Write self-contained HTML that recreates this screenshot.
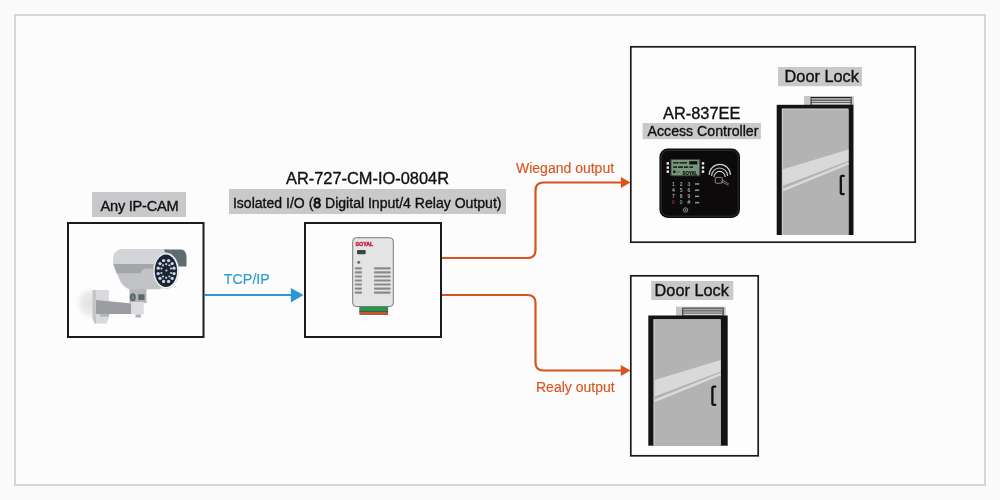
<!DOCTYPE html>
<html><head><meta charset="utf-8">
<style>
html,body{margin:0;padding:0;width:1000px;height:500px;overflow:hidden;background:#fafafa;}
svg{position:absolute;left:0;top:0;will-change:transform;}
text{font-family:"Liberation Sans",sans-serif;}
.tb{stroke:#111;stroke-width:0.35;}
.tc{stroke-width:0.12;}
</style></head>
<body>
<svg width="1000" height="500" viewBox="0 0 1000 500">
  <!-- outer frame -->
  <rect x="15" y="15" width="970" height="470" fill="#fcfcfc" stroke="#d6d6d6" stroke-width="2"/>

  <!-- camera label + box -->
  <rect x="92" y="192" width="94" height="25" fill="#c8c9cb"/>
  <text x="100.6" y="211" font-size="14.6" letter-spacing="-0.25" fill="#111" class="tb">Any IP-CAM</text>
  <rect x="68" y="223" width="135.5" height="114" fill="#fdfdfd" stroke="#1c1a1a" stroke-width="2"/>
  <!-- camera -->
  <defs>
    <radialGradient id="shd" cx="0.5" cy="0.5" r="0.5">
      <stop offset="0" stop-color="#e2e2e2"/>
      <stop offset="0.55" stop-color="#ececec"/>
      <stop offset="1" stop-color="#ffffff" stop-opacity="0"/>
    </radialGradient>
  </defs>
  <g>
    <ellipse cx="89" cy="303" rx="15" ry="19" fill="url(#shd)"/>
    <!-- wall plate -->
    <path d="M92.5,290 H109 V318 L106.5,323.5 H94.5 L92.5,318 Z" fill="#d9dadd"/>
    <path d="M92.5,290 V318 L94.5,323.5 H96 V290 Z" fill="#c4c6c9"/>
    <!-- arm -->
    <path d="M96,300 L132,303.5 V314 H96 Z" fill="#9b9da2"/>
    <rect x="100" y="314" width="9" height="2.6" fill="#b3b5b8"/>
    <!-- neck -->
    <path d="M129.5,287 H146.5 V303 H129.5 Z" fill="#b5b7bb"/>
    <!-- joint -->
    <rect x="131" y="302" width="12.8" height="12.3" fill="#dcdde0"/>
    <rect x="135.5" y="314.5" width="5.5" height="3" fill="#b0b2b5"/>
    <rect x="138.3" y="294.3" width="6.2" height="5.8" fill="#5b676b"/>
    <ellipse cx="132.8" cy="297.2" rx="3" ry="3.9" fill="#5b676b"/>
    <ellipse cx="132.8" cy="297.2" rx="1.6" ry="2.5" fill="#76807f"/>
    <!-- lower body -->
    <path d="M116.5,272 L119.5,279.5 C121.5,284 125,287.8 129.5,289.3 H158 C162,289 166,287 168,284 V268 H116 Z" fill="#c2c3c6"/>
    <!-- dark band -->
    <path d="M113,263.4 H168 V268.5 H146 C143,268.5 141.5,271 140.5,273.2 H116.6 Z" fill="#a4a6aa"/>
    <!-- top band -->
    <path d="M113,263.4 V259 C113,253 117,249 123,249 H168 V263.4 Z" fill="#d4d5d8"/>
    <!-- hood -->
    <path d="M164,249.5 H181 C184.5,249.5 186.5,253 186.5,257 V266.5 H170 Z" fill="#5e6b6f"/>
    <!-- lens -->
    <ellipse cx="166" cy="270.8" rx="12.8" ry="18.1" fill="#f2f3f5" stroke="#c4c6c9" stroke-width="0.5"/>
    <ellipse cx="165.9" cy="270.8" rx="11.2" ry="16.2" fill="#1d2431"/>
    <g fill="#c9d5e8">
      <circle cx="163.6" cy="260.6" r="1.65"/><circle cx="168.6" cy="260.6" r="1.65"/>
      <circle cx="172.2" cy="263.6" r="1.65"/><circle cx="174" cy="268.2" r="1.65"/>
      <circle cx="174" cy="273.6" r="1.65"/><circle cx="172.2" cy="278.3" r="1.65"/>
      <circle cx="168.6" cy="281.4" r="1.65"/><circle cx="163.6" cy="281.4" r="1.65"/>
      <circle cx="160" cy="278.3" r="1.65"/><circle cx="158.2" cy="273.6" r="1.65"/>
      <circle cx="158.2" cy="268.2" r="1.65"/><circle cx="160" cy="263.6" r="1.65"/>
    </g>
    <g fill="#c3cfe3">
      <circle cx="166.2" cy="264.2" r="1.1"/><circle cx="169.4" cy="265.3" r="1.1"/>
      <circle cx="171" cy="268.6" r="1.1"/><circle cx="171" cy="273" r="1.1"/>
      <circle cx="169.4" cy="276.5" r="1.1"/><circle cx="166.2" cy="277.8" r="1.1"/>
      <circle cx="163" cy="276.5" r="1.1"/><circle cx="161.4" cy="273" r="1.1"/>
      <circle cx="161.4" cy="268.6" r="1.1"/><circle cx="163" cy="265.3" r="1.1"/>
    </g>
    <circle cx="166.4" cy="270.5" r="1.1" fill="#c9d5e8"/>
  </g>

  <!-- device labels + box -->
  <text x="286" y="184" font-size="16.4" fill="#111" class="tb">AR-727-CM-IO-0804R</text>
  <rect x="229" y="189" width="277" height="25" fill="#c8c9cb"/>
  <text x="232.9" y="207.6" font-size="14.05" fill="#111" class="tb">Isolated I/O (<tspan style="stroke-width:0.85">8</tspan> Digital Input/4 Relay Output)</text>
  <rect x="305" y="223" width="136" height="114" fill="#fdfdfd" stroke="#1c1a1a" stroke-width="2"/>
  <!-- SOYAL IO device -->
  <g>
    <rect x="359.8" y="306" width="28" height="5.8" fill="#1d9a4a" stroke="#3a3a3a" stroke-width="0.5"/>
    <rect x="359.8" y="311.6" width="28" height="3.1" fill="#d2532b" stroke="#3a3a3a" stroke-width="0.5"/>
    <rect x="352.7" y="237.7" width="40.6" height="68.8" rx="3.6" fill="#e4e4e5" stroke="#7a7a7a" stroke-width="1"/>
    <text x="355.6" y="245.9" font-size="5.1" font-weight="bold" fill="#c4142e" stroke="#c4142e" stroke-width="0.35" textLength="17.6" lengthAdjust="spacingAndGlyphs">SOYAL</text>
    <rect x="357" y="250" width="8.7" height="4.3" rx="1" fill="#3b4842"/>
    <circle cx="358.7" cy="262.2" r="1.5" fill="#6c6c6c"/>
    <g stroke="#8a8a8a" stroke-width="2.2" stroke-linecap="round">
      <path d="M355.8,268.4H361 M355.8,272.4H361 M355.8,276.5H361 M355.8,280.5H361 M355.8,284.5H361 M355.8,288.6H361 M355.8,292.6H361"/>
      <path d="M374.9,268.4H389.7 M374.9,272.4H389.7 M374.9,276.5H389.7 M374.9,280.5H389.7 M374.9,284.5H389.7 M374.9,288.6H389.7 M374.9,292.6H389.7"/>
    </g>
  </g>

  <!-- TCP/IP arrow -->
  <text x="223.8" y="284.2" font-size="14.3" fill="#2f9ad6" stroke="#2b98d4" class="tc">TCP/IP</text>
  <line x1="204" y1="295" x2="292" y2="295" stroke="#2b98d4" stroke-width="2.2"/>
  <polygon points="290.8,288 303.5,295 290.8,302.4" fill="#2b98d4"/>

  <!-- orange paths -->
  <path d="M442,258 H527.5 Q535.5,258 535.5,250 V190.5 Q535.5,182.5 543.5,182.5 H622" fill="none" stroke="#d9531e" stroke-width="2.2"/>
  <polygon points="620.8,177 630.5,182.5 620.8,188" fill="#d9531e"/>
  <text x="516" y="173" font-size="14" fill="#d9531e" stroke="#d9531e" class="tc">Wiegand output</text>
  <path d="M442,295 H527.5 Q535.5,295 535.5,303 V362.5 Q535.5,370.5 543.5,370.5 H622" fill="none" stroke="#d9531e" stroke-width="2.2"/>
  <polygon points="620.8,365 630.5,370.5 620.8,376" fill="#d9531e"/>
  <text x="536" y="392" font-size="14" fill="#d9531e" stroke="#d9531e" class="tc">Realy output</text>

  <!-- top right box -->
  <rect x="630.8" y="46.8" width="284.4" height="195.4" fill="#fdfdfd" stroke="#1c1a1a" stroke-width="1.7"/>
  <!-- bottom right box -->
  <rect x="630.8" y="275.8" width="127.4" height="180" fill="#fdfdfd" stroke="#1c1a1a" stroke-width="1.7"/>

  <g transform="translate(776.7,105)">
    <rect x="27.3" y="-9" width="49.900000000000006" height="9.3" fill="#c6c6c6"/>
    <rect x="34.4" y="-7.5" width="40.00000000000001" height="7.8" fill="#d4d4d4" stroke="#1e1e1e" stroke-width="1"/>
    <rect x="34.9" y="-7" width="39.00000000000001" height="2.3" fill="#a6a6a6"/>
    <path d="M34.4,-4.7H74.4 M34.4,-2.6H74.4" stroke="#333" stroke-width="0.8"/>
    <rect x="0" y="-0.2" width="76.8" height="130.2" fill="#141414"/>
    <rect x="5.1" y="3.5000000000000004" width="66.69999999999999" height="126.5" fill="#d2d2d2"/>
    <rect x="6.2" y="4.4" width="65.6" height="125.6" rx="1" fill="#b3b3b3"/>
    <path d="M6.2,64.2 L71.8,44.4 V55.8 L6.2,80.8 Z" fill="#d9d9d9"/>
    <path d="M6.2,85.2 L71.8,58.4" stroke="#dadada" stroke-width="2.4" fill="none"/>
    <path d="M67,70.9 H65.6 Q64.1,70.9 64.1,72.4 V87.6 Q64.1,89.1 65.6,89.1 H67" stroke="#111" stroke-width="2.3" fill="none" stroke-linecap="round"/>
  </g>
  <g transform="translate(648.3,315.7)">
    <rect x="27.7" y="-9" width="49.8" height="9.3" fill="#c6c6c6"/>
    <rect x="34.5" y="-7.5" width="40.3" height="7.8" fill="#d4d4d4" stroke="#1e1e1e" stroke-width="1"/>
    <rect x="35.0" y="-7" width="39.3" height="2.3" fill="#a6a6a6"/>
    <path d="M34.5,-4.7H74.8 M34.5,-2.6H74.8" stroke="#333" stroke-width="0.8"/>
    <rect x="0" y="-0.2" width="79.4" height="130.2" fill="#141414"/>
    <rect x="5.1" y="3.5000000000000004" width="67.3" height="126.5" fill="#d2d2d2"/>
    <rect x="6.2" y="4.4" width="66.2" height="125.6" rx="1" fill="#b3b3b3"/>
    <path d="M6.2,64.2 L72.4,44.4 V55.8 L6.2,80.8 Z" fill="#d9d9d9"/>
    <path d="M6.2,85.2 L72.4,58.4" stroke="#dadada" stroke-width="2.4" fill="none"/>
    <path d="M67,70.9 H65.6 Q64.1,70.9 64.1,72.4 V87.6 Q64.1,89.1 65.6,89.1 H67" stroke="#111" stroke-width="2.3" fill="none" stroke-linecap="round"/>
  </g>

  <!-- access controller -->
  <g>
    <rect x="659.4" y="148.6" width="80.6" height="69.4" rx="8.5" fill="#0c0a0a"/>
    <rect x="661.2" y="150.4" width="77" height="65.8" rx="7" fill="none" stroke="#3c3a3a" stroke-width="0.8"/>
    <rect x="671" y="159.4" width="28.8" height="16.4" fill="#76977c" stroke="#3a403c" stroke-width="0.9"/>
    <g fill="#1e2a20">
      <rect x="673.2" y="162" width="5.5" height="1.6"/><rect x="679.5" y="162" width="7.5" height="1.6"/>
      <rect x="689.2" y="161.2" width="8.2" height="3.2" fill="#0c120d"/>
      <rect x="673.2" y="166.2" width="3.8" height="1.8"/><rect x="678" y="166.2" width="5" height="1.8"/><rect x="684" y="166.2" width="4.2" height="1.8"/><rect x="689.5" y="166.2" width="3.5" height="1.8"/>
      <rect x="673" y="170.4" width="2.6" height="2.8"/><rect x="676.2" y="171" width="4" height="1.8" fill="#5c7a60"/>
    </g>
    <text x="682.6" y="174.6" font-size="5.2" font-weight="bold" fill="#0a140b" stroke="#0a140b" stroke-width="0.25" textLength="14.6" lengthAdjust="spacingAndGlyphs">SOYAL</text>
    <g fill="#f0f0f0">
      <rect x="666.6" y="162.2" width="2.4" height="2.4"/><rect x="666.6" y="166.4" width="2.4" height="2.4"/><rect x="666.6" y="170.4" width="2.4" height="2.4"/>
      <rect x="701.8" y="162.2" width="2.4" height="2.4"/><rect x="701.8" y="166.4" width="2.4" height="2.4"/><rect x="701.8" y="170.4" width="2.4" height="2.4"/>
    </g>
    <g font-size="5" fill="#a4a4a4" stroke="#a4a4a4" stroke-width="0.15" text-anchor="middle">
      <text x="673.3" y="185.6">1</text><text x="681.2" y="185.6">2</text><text x="689" y="185.6">3</text>
      <text x="673.3" y="191.9">4</text><text x="681.2" y="191.9">5</text><text x="689" y="191.9">6</text>
      <text x="673.3" y="198">7</text><text x="681.2" y="198">8</text><text x="689" y="198">9</text>
      <text x="673.3" y="204.3" fill="#9a2636" stroke="#9a2636">8</text><text x="681.2" y="204.3" fill="#6a8a70">0</text><text x="689" y="204.3" fill="#6a8a70">#</text>
    </g>
    <g fill="#959595">
      <rect x="695" y="183.2" width="4.2" height="1.5"/><rect x="695" y="189.5" width="4.2" height="1.5"/>
      <rect x="695" y="195.6" width="4.2" height="1.5"/><rect x="695" y="201.9" width="4.2" height="1.5"/>
    </g>
    <circle cx="685.6" cy="210" r="2.2" fill="none" stroke="#bdbdbd" stroke-width="0.7"/>
    <circle cx="685.6" cy="210" r="0.8" fill="#d0d0d0"/>
    <g fill="none" stroke="#d0d0d0" stroke-width="1.1">
      <path d="M709.2,175 A10.6,10.6 0 0 1 730.4,175"/>
      <path d="M711.6,176 A8,8 0 0 1 727.6,176"/>
      <path d="M714,177 A5.6,5.6 0 0 1 725.2,177"/>
    </g>
    <rect x="715.3" y="177.4" width="7" height="5.8" rx="1" fill="#0c0a0a" stroke="#a8a8a8" stroke-width="0.8"/>
    <path d="M721,181.5 L728.6,185.3 M722.5,180.3 L728.8,183.8" stroke="#a0a0a0" stroke-width="0.7"/>
  </g>

  <!-- labels in right boxes -->
  <text x="663" y="119" font-size="16.4" fill="#111" class="tb">AR-837EE</text>
  <rect x="642.6" y="123" width="118.3" height="16.2" fill="#c8c9cb"/>
  <text x="647.6" y="136.1" font-size="14.15" fill="#111" class="tb">Access Controller</text>

  <rect x="778" y="67" width="84" height="19.2" fill="#c8c9cb"/>
  <text x="784.6" y="81.6" font-size="16.3" fill="#111" class="tb">Door Lock</text>
  <rect x="651.2" y="281" width="82.1" height="19" fill="#c8c9cb"/>
  <text x="654.6" y="295.5" font-size="16.3" fill="#111" class="tb">Door Lock</text>
</svg>
</body></html>
